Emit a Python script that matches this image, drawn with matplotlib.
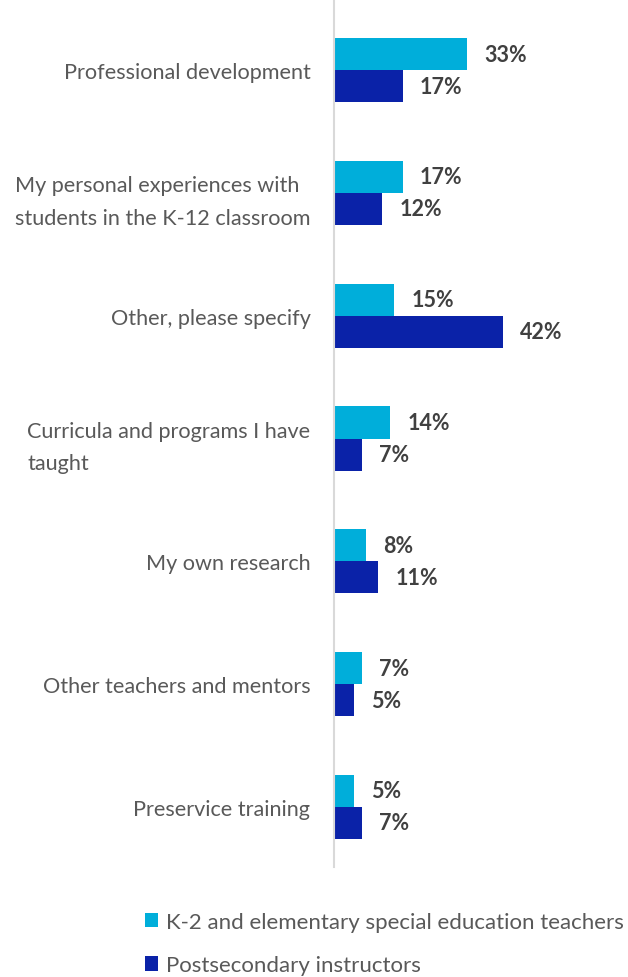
import matplotlib
matplotlib.use("Agg")
import matplotlib.pyplot as plt
from matplotlib.patches import Patch

categories = [
    "Professional development",
    "My personal experiences with\nstudents in the K-12 classroom",
    "Other, please specify",
    "Curricula and programs I have\ntaught",
    "My own research",
    "Other teachers and mentors",
    "Preservice training",
]
k2_values = [33, 17, 15, 14, 8, 7, 5]
post_values = [17, 12, 42, 7, 11, 5, 7]
series_names = ["K-2 and elementary special education teachers", "Postsecondary instructors"]

c_k2 = "#00AEDA"
c_post = "#0A22A8"
txt_gray = "#595959"
lbl_gray = "#404040"
font = "Lato"

W, H = 628, 978
fig = plt.figure(figsize=(W / 100, H / 100), dpi=100)
ax_left = 334 / W
ax_bottom = 1 - 868 / H
ax = fig.add_axes([ax_left, ax_bottom, 1 - ax_left, 868 / H])

bh = 32 / 122.8
ys = list(range(len(categories)))
ax.barh([y - bh / 2 for y in ys], k2_values, height=bh, color=c_k2, zorder=2)
ax.barh([y + bh / 2 for y in ys], post_values, height=bh, color=c_post, zorder=2)

px_per_unit = 4.03
off = 17 / px_per_unit
for y, v in zip(ys, k2_values):
    ax.text(v + off, y - bh / 2, f"{v}%", va="center", ha="left", fontsize=15.5,
            fontweight="bold", color=lbl_gray, family=font)
for y, v in zip(ys, post_values):
    ax.text(v + off, y + bh / 2, f"{v}%", va="center", ha="left", fontsize=15.5,
            fontweight="bold", color=lbl_gray, family=font)

ax.set_xlim(0, (W - 334) / px_per_unit)
ax.set_ylim(len(categories) - 1 + 60 / 122.8, -71 / 122.8)
ax.set_yticks(ys)
ax.set_yticklabels(categories, fontsize=15.6, color=txt_gray, family=font,
                   multialignment="left", linespacing=1.8)
ax.tick_params(axis="y", length=0, pad=17)
ax.set_xticks([])
for s in ["top", "right", "bottom"]:
    ax.spines[s].set_visible(False)
ax.spines["left"].set_color("#D9D9D9")
ax.spines["left"].set_linewidth(1.5)
ax.patch.set_alpha(0)

handles = [Patch(facecolor=c_k2), Patch(facecolor=c_post)]
leg = fig.legend(handles, series_names, loc="upper left",
                 bbox_to_anchor=(125 / W, 1 - 893 / H), frameon=False,
                 handlelength=0.6, handleheight=0.6, handletextpad=0.35,
                 labelspacing=1.05, prop={"family": font, "size": 16})
for t in leg.get_texts():
    t.set_color(txt_gray)

fig.savefig("out.png", dpi=100)
